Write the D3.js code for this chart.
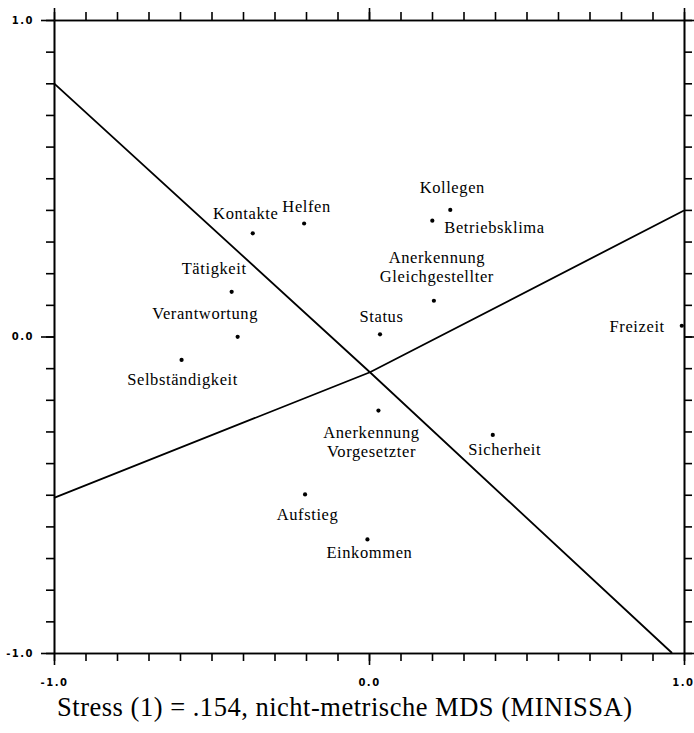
<!DOCTYPE html>
<html>
<head>
<meta charset="utf-8">
<script src="https://cdn.jsdelivr.net/npm/d3@7"></script>
<style>
  html, body { margin: 0; padding: 0; background: #fff; }
  svg { display: block; }
</style>
</head>
<body>
<svg id="chart" width="694" height="733"></svg>
<script>
// ---- data ----
const names = ["Kontakte", "Helfen", "Kollegen", "Betriebsklima", "Anerkennung\nGleichgestellter",
  "Status", "Tätigkeit", "Verantwortung", "Selbständigkeit", "Freizeit",
  "Anerkennung\nVorgesetzter", "Sicherheit", "Aufstieg", "Einkommen"];
const dim1 = [-0.369, -0.206, 0.258, 0.201, 0.206, 0.035, -0.436, -0.417, -0.595, 0.993, 0.030, 0.393, -0.203, -0.005];
const dim2 = [0.326, 0.357, 0.400, 0.366, 0.113, 0.007, 0.141, -0.001, -0.074, 0.034, -0.234, -0.311, -0.499, -0.641];
// partition lines (polylines through a common point)
const line1X = [-1, 0.003, 0.962];
const line1Y = [0.80, -0.113, -1];
const line2X = [-1, 0.003, 1];
const line2Y = [-0.51, -0.113, 0.398];
const tickValuesAll = d3.range(-10, 11).map(i => i / 10);
const majorTicks = [-1, 0, 1];
const tickLabels = ["-1.0", "0.0", "1.0"];
const caption = "Stress (1) = .154, nicht-metrische MDS (MINISSA)";

// ---- layout (label placement relative to point, in px) ----
const labelLayout = {
  "Kontakte": { dx: -7, dy: -14, anchor: "middle" },
  "Helfen": { dx: 2.5, dy: -12, anchor: "middle" },
  "Kollegen": { dx: 2, dy: -17, anchor: "middle" },
  "Betriebsklima": { dx: 12, dy: 12.5, anchor: "start" },
  "Anerkennung\nGleichgestellter": { dx: 3, dy: -37.5, anchor: "middle" },
  "Status": { dx: 1.5, dy: -12.5, anchor: "middle" },
  "Tätigkeit": { dx: -17.5, dy: -17.5, anchor: "middle" },
  "Verantwortung": { dx: -32.5, dy: -17.5, anchor: "middle" },
  "Selbständigkeit": { dx: 1, dy: 25, anchor: "middle" },
  "Freizeit": { dx: -17, dy: 6.5, anchor: "end" },
  "Anerkennung\nVorgesetzter": { dx: -7, dy: 27.5, anchor: "middle" },
  "Sicherheit": { dx: 12, dy: 20, anchor: "middle" },
  "Aufstieg": { dx: 2.5, dy: 26, anchor: "middle" },
  "Einkommen": { dx: 2, dy: 19, anchor: "middle" }
};

const svg = d3.select("#chart");
const x = d3.scaleLinear().domain([-1, 1]).range([54, 684]);
const y = d3.scaleLinear().domain([-1, 1]).range([653, 20]);

const axisFont = "'DejaVu Sans', sans-serif";
function styleAxis(g) {
  g.attr("font-size", null).attr("font-family", null);
  g.selectAll("path.domain").attr("stroke", "#000").attr("stroke-width", 1.6);
  g.selectAll(".tick line").attr("stroke", "#000").attr("stroke-width", 1.6);
  g.selectAll(".tick text").attr("fill", "#000")
    .style("font-family", axisFont).style("font-size", "10px")
    .style("font-weight", "bold").style("letter-spacing", "1.5px");
}

// minor ticks all sides
const sides = [
  { a: d3.axisTop(x), t: `translate(0,${y(1)})` },
  { a: d3.axisBottom(x), t: `translate(0,${y(-1)})` },
  { a: d3.axisLeft(y), t: `translate(${x(-1)},0)` },
  { a: d3.axisRight(y), t: `translate(${x(1)},0)` }
];
sides.forEach(s => {
  svg.append("g").attr("transform", s.t)
    .call(s.a.tickValues(tickValuesAll).tickSize(8).tickSizeOuter(0).tickFormat(""))
    .call(styleAxis);
});
// major ticks
svg.append("g").attr("transform", `translate(0,${y(1)})`)
  .call(d3.axisTop(x).tickValues(majorTicks).tickSize(12).tickSizeOuter(0).tickFormat(""))
  .call(styleAxis);
svg.append("g").attr("transform", `translate(${x(1)},0)`)
  .call(d3.axisRight(y).tickValues(majorTicks).tickSize(12).tickSizeOuter(0).tickFormat(""))
  .call(styleAxis);
const bottomAxis = svg.append("g").attr("transform", `translate(0,${y(-1)})`)
  .call(d3.axisBottom(x).tickValues(majorTicks).tickSize(12).tickSizeOuter(0).tickPadding(14)
    .tickFormat((d, i) => tickLabels[i]))
  .call(styleAxis);
// keep the right-most label inside the page
bottomAxis.selectAll(".tick text").filter(d => d === 1).attr("text-anchor", "end").attr("x", 10);
svg.append("g").attr("transform", `translate(${x(-1)},0)`)
  .call(d3.axisLeft(y).tickValues(majorTicks).tickSize(13).tickSizeOuter(0).tickPadding(7)
    .tickFormat((d, i) => tickLabels[i]))
  .call(styleAxis);

// partition lines
const lineGen = d3.line().x(d => x(d[0])).y(d => y(d[1]));
[[line1X, line1Y], [line2X, line2Y]].forEach(([lx, ly]) => {
  svg.append("path")
    .datum(lx.map((v, i) => [v, ly[i]]))
    .attr("d", lineGen)
    .attr("fill", "none").attr("stroke", "#000").attr("stroke-width", 1.8);
});

// points
const pts = names.map((n, i) => ({ name: n, x: dim1[i], y: dim2[i] }));
svg.append("g").selectAll("circle").data(pts).join("circle")
  .attr("cx", d => x(d.x)).attr("cy", d => y(d.y)).attr("r", 2.1).attr("fill", "#000");

// labels
const labelFont = "'Liberation Serif', 'Times New Roman', serif";
const lg = svg.append("g");
pts.forEach(d => {
  const L = labelLayout[d.name];
  const t = lg.append("text")
    .attr("x", x(d.x) + L.dx).attr("y", y(d.y) + L.dy)
    .attr("text-anchor", L.anchor)
    .style("font-family", labelFont).style("font-size", "16.5px")
    .style("letter-spacing", "0.6px").attr("fill", "#000");
  d.name.split("\n").forEach((line, j) => {
    t.append("tspan").attr("x", x(d.x) + L.dx).attr("dy", j === 0 ? 0 : 19).text(line);
  });
});

// caption
svg.append("text")
  .attr("x", 344.5).attr("y", 716)
  .attr("text-anchor", "middle")
  .attr("textLength", 575).attr("lengthAdjust", "spacing")
  .style("font-family", labelFont).style("font-size", "26.5px").attr("fill", "#000")
  .text(caption);
</script>
</body>
</html>
